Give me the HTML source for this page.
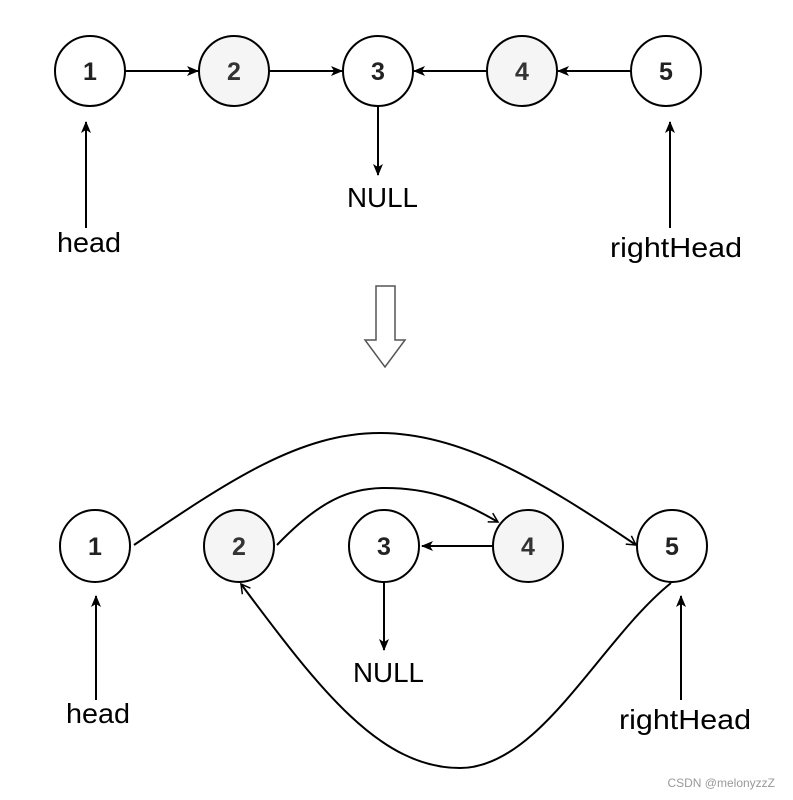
<!DOCTYPE html>
<html><head><style>body{margin:0;background:#fff}svg{display:block}text{font-family:"Liberation Sans",sans-serif}</style></head>
<body>
<svg width="793" height="800" viewBox="0 0 793 800">
<defs>
<marker id="a" markerWidth="12" markerHeight="12" refX="11" refY="6" orient="auto" markerUnits="userSpaceOnUse"><path d="M0,1 L12,6 L0,11 L3,6z" fill="#000"/></marker>
<marker id="o" markerWidth="12" markerHeight="12" refX="10" refY="6" orient="auto" markerUnits="userSpaceOnUse"><path d="M1,1 L10,6 L1,11" fill="none" stroke="#000" stroke-width="1.5"/></marker>
</defs>
<g stroke="#000" stroke-width="2">
<circle cx="90" cy="71" r="35" fill="#fff"/>
<circle cx="234" cy="71" r="35" fill="#f5f5f5"/>
<circle cx="378" cy="71" r="35" fill="#fff"/>
<circle cx="522" cy="71" r="35" fill="#f5f5f5"/>
<circle cx="666" cy="71" r="35" fill="#fff"/>
<line x1="125" y1="71" x2="198" y2="71" marker-end="url(#a)"/>
<line x1="269" y1="71" x2="342" y2="71" marker-end="url(#a)"/>
<line x1="487" y1="71" x2="414" y2="71" marker-end="url(#a)"/>
<line x1="631" y1="71" x2="558" y2="71" marker-end="url(#a)"/>
<line x1="378" y1="106" x2="378" y2="175" marker-end="url(#a)"/>
<line x1="86" y1="228" x2="86" y2="122" marker-end="url(#a)"/>
<line x1="670" y1="228" x2="670" y2="122" marker-end="url(#a)"/>
</g>
<g font-size="25" font-weight="bold" text-anchor="middle" fill="#222">
<text x="90" y="80">1</text><text x="234" y="80" fill="#333">2</text><text x="378" y="80">3</text><text x="522" y="80" fill="#333">4</text><text x="666" y="80">5</text>
</g>
<g font-size="28" fill="#000">
<text x="347" y="207" textLength="71" lengthAdjust="spacingAndGlyphs">NULL</text>
<text x="57" y="252" textLength="64" lengthAdjust="spacingAndGlyphs">head</text>
<text x="610" y="257" textLength="132" lengthAdjust="spacingAndGlyphs">rightHead</text>
</g>
<path d="M376,286 L395,286 L395,340 L405,340 L385,367 L365,340 L376,340 Z" fill="#fff" stroke="#555" stroke-width="1.5"/>
<g stroke="#000" stroke-width="2">
<ellipse cx="95" cy="546" rx="35" ry="36" fill="#fff"/>
<ellipse cx="239" cy="546" rx="35" ry="36" fill="#f5f5f5"/>
<ellipse cx="384" cy="546" rx="35" ry="36" fill="#fff"/>
<ellipse cx="528" cy="546" rx="35" ry="36" fill="#f5f5f5"/>
<ellipse cx="672" cy="546" rx="35" ry="36" fill="#fff"/>
<line x1="493" y1="546" x2="422" y2="546" marker-end="url(#a)"/>
<line x1="384" y1="582" x2="384" y2="650" marker-end="url(#a)"/>
<line x1="96" y1="700" x2="96" y2="596" marker-end="url(#a)"/>
<line x1="681" y1="700" x2="681" y2="596" marker-end="url(#a)"/>
<path d="M134,545 C230,480 300,433 380,433 C460,433 540,480 636,545" fill="none" marker-end="url(#o)"/>
<path d="M277,545 C320,500 350,488 385,488 C430,488 460,500 498,522" fill="none" marker-end="url(#o)"/>
<path d="M671,583 C600,640 540,768 460,768 C380,768 320,690 241,584" fill="none" marker-end="url(#o)"/>
</g>
<g font-size="25" font-weight="bold" text-anchor="middle" fill="#222">
<text x="95" y="555">1</text><text x="239" y="555" fill="#333">2</text><text x="384" y="555">3</text><text x="528" y="555" fill="#333">4</text><text x="672" y="555">5</text>
</g>
<g font-size="28" fill="#000">
<text x="353" y="682" textLength="71" lengthAdjust="spacingAndGlyphs">NULL</text>
<text x="66" y="723" textLength="64" lengthAdjust="spacingAndGlyphs">head</text>
<text x="619" y="729" textLength="132" lengthAdjust="spacingAndGlyphs">rightHead</text>
</g>
<text x="775" y="787" font-size="12" fill="#999" text-anchor="end">CSDN @melonyzzZ</text>
</svg>
</body></html>
